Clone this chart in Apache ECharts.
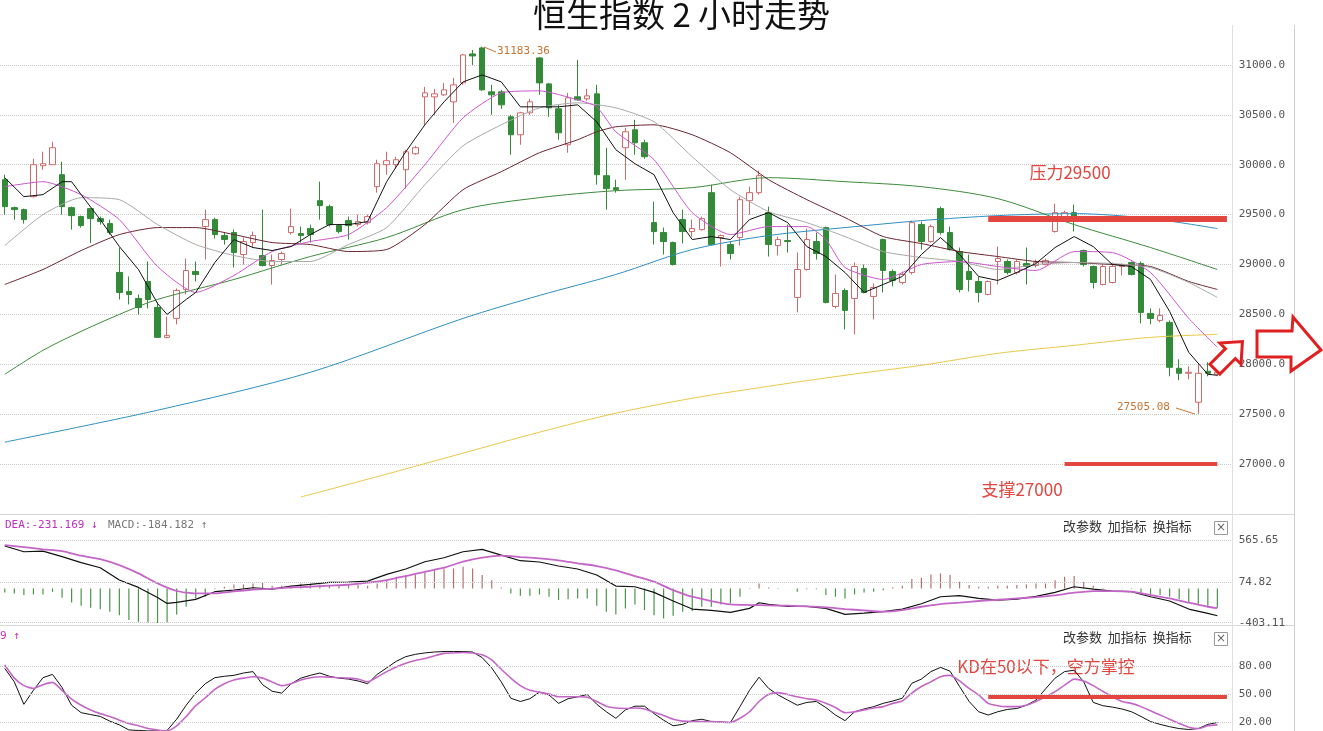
<!DOCTYPE html>
<html><head><meta charset="utf-8">
<script src="https://cdn.jsdelivr.net/npm/echarts@6/dist/echarts.min.js"></script>
<style>html,body{margin:0;padding:0;background:#fff}#c{width:1323px;height:731px}</style>
</head><body><div id="c"></div>
<script>
// [open, close, low, high]
const candles=[
[29850,29580,29500,29900],[29570,29550,29450,29580],[29550,29450,29410,29560],[29680,30000,29670,30060],[29990,30010,29950,30130],
[30000,30170,30000,30230],[29900,29580,29500,30030],[29570,29490,29350,29580],[29480,29390,29370,29490],[29560,29460,29215,29560],
[29460,29430,29400,29480],[29410,29320,29300,29450],[28920,28720,28650,29170],[28730,28700,28600,28880],[28660,28570,28500,28700],
[28830,28650,28560,29030],[28570,28270,28270,28620],[28270,28290,28260,28480],[28460,28740,28400,28760],[28750,28940,28700,29060],
[28930,28900,28830,29030],[29380,29450,29050,29550],[29450,29300,29260,29470],[29290,29250,29200,29320],[29320,29120,28970,29350],
[29100,29230,29000,29270],[29220,29290,29170,29330],[29090,28990,28980,29550],[28990,29040,28800,29100],[29050,29110,29000,29130],
[29320,29380,29300,29560],[29310,29290,29220,29380],[29360,29300,29220,29400],[29640,29590,29450,29830],[29580,29400,29380,29600],
[29390,29330,29310,29400],[29440,29390,29250,29480],[29400,29430,29380,29500],[29420,29480,29400,29500],[29780,30010,29720,30050],
[30000,30040,29900,30130],[30000,30050,29960,30080],[29950,30130,29760,30150],[30110,30170,30100,30190],[30680,30720,30400,30780],
[30680,30710,30500,30760],[30700,30750,30690,30820],[30630,30800,30420,30870],[30820,31100,30800,31110],[31110,31090,31000,31150],
[31170,30750,30740,31183.36],[30730,30700,30500,30800],[30730,30600,30560,30750],[30480,30300,30100,30500],[30300,30520,30200,30530],
[30520,30630,30500,30660],[31070,30820,30700,31080],[30810,30570,30480,30820],[30560,30320,30250,30600],[30200,30670,30120,30720],
[30680,30650,30640,31050],[30660,30690,30640,30760],[30710,29900,29800,30800],[29890,29760,29550,30170],[29770,29750,29720,29850],
[30170,30330,29850,30370],[30350,30220,30100,30450],[30220,30080,30060,30250],[29420,29330,29200,29630],[29320,29230,29100,29370],
[29220,29000,28990,29230],[29450,29330,29210,29550],[29330,29360,29280,29450],[29350,29460,29340,29480],[29720,29200,29190,29800],
[29270,29290,28980,29300],[29200,29110,29050,29230],[29270,29650,29190,29680],[29640,29720,29500,29780],[29720,29890,29700,29940],
[29520,29200,29080,29580],[29190,29250,29090,29280],[29240,29230,29120,29400],[28670,28950,28520,29120],[28950,29250,28940,29360],
[29230,29110,29050,29320],[29370,28620,28610,29380],[28580,28710,28560,28900],[28740,28540,28350,28760],[28660,28980,28300,29020],
[28960,28720,28710,29000],[28680,28770,28450,28810],[29250,28940,28720,29260],[28930,28840,28780,28950],[28820,28900,28800,28930],
[28920,29420,28900,29440],[29400,29230,29150,29430],[29230,29380,29220,29400],[29560,29320,29300,29580],[29320,29150,29140,29380],
[29130,28750,28720,29170],[28930,28850,28730,29100],[28830,28720,28620,28880],[28700,28830,28690,28840],[29030,29060,28800,29180],
[29030,28920,28900,29050],[28920,29030,28900,29050],[29010,28980,28800,29170],[28990,29020,28970,29050],[29000,29040,28990,29060],
[29330,29520,29320,29610],[29460,29520,29450,29540],[29520,29460,29330,29600],[29140,29000,28980,29150],[28980,28820,28760,28990],
[28800,28980,28790,29000],[28820,28980,28810,29020],[28980,29000,28890,29010],[29020,28900,28890,29030],[29010,28520,28410,29030],
[28510,28460,28400,28560],[28440,28490,28420,28560],[28420,27970,27880,28440],[27960,27910,27840,28050],[27910,27920,27850,27980],
[27620,27910,27505.08,28000],[27930,27910,27880,28020],[27900,27920,27880,27960]
];
// moving averages as [candleIndex, value]
const ma5=[[0,29870],[2,29680],[4,29700],[6,29830],[7,29830],[8,29700],[10,29450],[12,29180],[14,28950],[16,28610],[17,28500],[19,28650],[20,28720],[22,29020],[24,29250],[26,29170],[28,29140],[30,29180],[32,29300],[34,29400],[36,29400],[38,29430],[40,29830],[42,30130],[44,30400],[46,30630],[48,30830],[50,30900],[52,30830],[54,30580],[56,30580],[58,30580],[60,30600],[62,30430],[64,30150],[66,30010],[68,29900],[70,29520],[72,29250],[74,29280],[76,29250],[78,29450],[80,29520],[82,29420],[84,29180],[86,29080],[88,28920],[90,28720],[92,28800],[94,28880],[96,29100],[98,29270],[100,29100],[102,28880],[104,28840],[106,28920],[108,29010],[110,29170],[112,29280],[114,29180],[116,29000],[118,28980],[120,28850],[122,28530],[124,28120],[126,27900],[127,27890]];
const ma10=[[0,29780],[4,29830],[8,29700],[12,29450],[16,28980],[20,28720],[24,28890],[28,29130],[32,29230],[36,29300],[40,29570],[44,30000],[48,30470],[52,30720],[56,30740],[60,30650],[62,30580],[64,30330],[68,30050],[72,29520],[76,29300],[80,29380],[84,29380],[86,29250],[88,28970],[92,28850],[96,29000],[100,29030],[104,28980],[108,28940],[112,29130],[116,29120],[120,28920],[124,28460],[127,28170]];
const ma20=[[0,29190],[4,29500],[8,29670],[12,29650],[16,29400],[20,29200],[24,29090],[28,29030],[32,29030],[36,29200],[40,29370],[44,29800],[48,30190],[52,30400],[56,30570],[60,30620],[64,30570],[68,30430],[72,30080],[76,29750],[80,29530],[84,29420],[88,29280],[92,29130],[96,29070],[100,29030],[104,28950],[108,29000],[112,29020],[116,29010],[120,28970],[124,28820],[127,28670]];
const ma30=[[0,28800],[4,28950],[8,29140],[12,29300],[16,29370],[20,29370],[24,29300],[28,29220],[32,29200],[36,29130],[40,29150],[44,29400],[48,29750],[52,29930],[56,30120],[60,30250],[62,30330],[64,30380],[68,30400],[72,30300],[76,30120],[80,29850],[84,29650],[88,29470],[92,29280],[96,29210],[100,29130],[104,29080],[108,29030],[112,29020],[116,29000],[120,28980],[124,28830],[127,28750]];
const ma60=[[0,27900],[4,28140],[8,28330],[12,28500],[16,28650],[24,28850],[32,29080],[40,29270],[48,29550],[56,29670],[64,29740],[72,29770],[80,29870],[88,29830],[96,29780],[104,29660],[112,29400],[120,29170],[127,28950]];
const ma120=[[0,27220],[16,27540],[32,27920],[48,28460],[56,28690],[64,28900],[72,29150],[80,29290],[88,29370],[96,29440],[104,29490],[112,29510],[120,29460],[127,29360]];
const ma250=[[31,26670],[40,26900],[48,27110],[56,27320],[64,27510],[72,27660],[80,27780],[88,27890],[96,27990],[104,28110],[112,28190],[120,28270],[127,28300]];
const macdHist=[-47,-59,-78,-70,-70,-40,-110,-164,-203,-226,-242,-273,-312,-370,-390,-398,-410,-398,-305,-215,-117,-98,-10,20,47,47,58,70,31,31,31,58,58,47,39,31,39,47,31,58,98,137,156,164,187,215,
234,234,253,234,156,97,10,-58,-86,-86,-70,-97,-136,-125,-117,-117,-203,-273,-304,-234,-187,-253,-312,-351,-320,-273,-265,-214,-214,-187,-175,-97,-5,58,10,-8,0,-39,-10,-10,-78,-97,-117,-70,-47,-39,
-20,15,31,109,125,164,175,156,78,39,20,20,31,31,39,47,58,58,97,137,144,78,31,5,0,-5,-5,-47,-70,-78,-97,-125,-164,-195,-214,-226];
const dif=[[0,496],[2,429],[4,437],[6,371],[8,301],[10,242],[12,98],[14,12],[16,-105],[17,-175],[18,-163],[20,-128],[22,-38],[24,-19],[26,8],[28,-7],[30,28],[32,47],[34,71],[36,75],[38,86],[40,164],[42,227],[44,312],[46,359],[48,429],[50,457],[52,390],[54,324],[56,309],[58,262],[60,227],[62,157],[64,28],[66,20],[68,-46],[70,-147],[72,-241],[74,-257],[76,-280],[78,-233],[79,-167],[80,-186],[82,-210],[84,-210],[86,-233],[88,-303],[90,-288],[92,-272],[94,-241],[96,-179],[98,-97],[100,-85],[102,-116],[104,-136],[106,-124],[108,-93],[110,-46],[112,20],[114,-7],[116,-31],[118,-38],[120,-97],[122,-147],[124,-241],[126,-292],[127,-319]];
const dea=[[0,507],[2,484],[4,457],[6,437],[8,383],[10,344],[12,273],[14,176],[16,59],[18,-30],[20,-58],[22,-58],[24,-34],[26,-15],[28,-3],[30,12],[32,20],[34,32],[36,43],[38,67],[40,98],[42,145],[44,195],[46,242],[48,312],[50,359],[52,383],[54,367],[56,351],[58,328],[60,293],[62,262],[64,211],[66,145],[68,79],[70,-19],[72,-97],[74,-147],[76,-186],[78,-194],[80,-198],[82,-202],[84,-210],[86,-221],[88,-241],[90,-257],[92,-272],[94,-253],[96,-214],[98,-183],[100,-167],[102,-147],[104,-132],[106,-116],[108,-101],[110,-81],[112,-50],[114,-31],[116,-31],[118,-38],[120,-77],[122,-116],[124,-167],[126,-214],[127,-231]];
const kLine=[77.5,63,39,54,67.5,71,57,38,30,28,26,21,17,11.5,11,10.5,10.5,11,23,38,51,61,67.5,69,70,72.5,74,60,53,51,61,67,70,72.5,69,67,66,64,61,71,78,85,90,92.5,94,95,
95.5,95.5,95.5,95,89,78,63,45.5,42,45,52,49,40,45,47,49.5,39,31,24,33,37,37,29,22,16,17.5,21.5,23,20.5,20,19.5,36.5,54,68,56,49,43.5,38,41,42,35.5,27.5,21.5,31,34,36.5,
40,42.5,45.5,61.5,66,74,78.5,74.5,58,42,31,27.5,31,33.5,34.5,38,43.5,55.5,67,74,75.5,63,41,37.5,36,34,31,26,20.5,17.5,15,13,12,13,17.5,19.5];
const dLine=[81,67,59,56,60,62.5,54,44.5,38,33,29,26,22,18.5,16,13,11.5,10.5,16,26,37.5,46,55,61,65,67,68.5,67,63,59,61,65,67.5,68.5,68,67.5,67,66,63,68,74,79,83,86,88,91,
93.5,94,94.5,94,92,86.5,76.5,67,59,54,52,50,47,47,47,46.5,42,37,35,34.5,35,34,30.5,27,23,21,20.5,20.5,20.5,20,19.5,24,31,42,49.5,51.5,49.5,47,45,43.5,40,35.5,30,31,33,35,
36.5,40,42.5,51,58,63,68.5,70,64,56,49,40,37.5,36.5,36.5,38,42,47,52.5,59.5,66,64,59,53,47,42,40,36.5,32,27.5,23,18.5,14.5,13,16,17];
const priceTicks=[27000,27500,28000,28500,29000,29500,30000,30500,31000];
const macdTicks=[565.65,74.82,-403.11];
const kdTicks=[80,50,20];
const categories=candles.map((_,i)=>'K'+i).concat(['']);

const chart=echarts.init(document.getElementById('c'));
const mono='DejaVu Sans Mono';
const red='#e2463f';
const gridLeft=-2.8, gridW=1234.5;
function xa(g){return {type:'category',gridIndex:g,data:categories,boundaryGap:true,axisLine:{show:false},axisTick:{show:false},axisLabel:{show:false},splitLine:{show:false}};}
const lbl={color:'#555',fontFamily:mono,fontSize:11,margin:7};
const dotted={type:'dotted',color:'#c8c8c8',width:1};
function gl(vals){return {silent:true,symbol:'none',label:{show:false},lineStyle:dotted,data:vals.map(v=>({yAxis:v}))};}
function ln(name,data,color,w,xi,yi,extra){return Object.assign({name,type:'line',data,xAxisIndex:xi||0,yAxisIndex:yi||0,symbol:'none',lineStyle:{color,width:w||1},itemStyle:{color},z:3,animation:false},extra||{});}
const option={
  animation:false,
  grid:[
    {left:gridLeft,width:gridW,top:25,height:489},
    {left:gridLeft,width:gridW,top:517,height:106},
    {left:gridLeft,width:gridW,top:628,height:103}
  ],
  xAxis:[xa(0),xa(1),xa(2)],
  yAxis:[
    {type:'value',gridIndex:0,position:'right',min:26500,max:31400,interval:500,axisLine:{show:false},axisTick:{show:false},
     axisLabel:Object.assign({},lbl,{showMinLabel:false,formatter:v=>priceTicks.includes(v)?v.toFixed(1):''}),
     splitLine:{show:true,showMinLine:false,showMaxLine:false,lineStyle:dotted}},
    {type:'value',gridIndex:1,position:'right',min:-404,max:835,axisLine:{show:false},axisTick:{show:false},splitLine:{show:false},
     axisLabel:Object.assign({},lbl,{customValues:macdTicks,formatter:v=>v.toFixed(2)})},
    {type:'value',gridIndex:2,position:'right',min:10.4,max:120.7,axisLine:{show:false},axisTick:{show:false},splitLine:{show:false},
     axisLabel:Object.assign({},lbl,{customValues:kdTicks,formatter:v=>v.toFixed(2)})}
  ],
  series:[
    ln('MA250',ma250,'#e8c84a',1,0,0,{smooth:0.3}),
    ln('MA120',ma120,'#2e8fc0',1,0,0,{smooth:0.3}),
    ln('MA60',ma60,'#3d8a3d',1,0,0,{smooth:0.3}),
    ln('MA30',ma30,'#6a2430',1,0,0,{smooth:0.2}),
    ln('MA20',ma20,'#a8a8a8',1,0,0,{smooth:0.2}),
    ln('MA10',ma10,'#cc55cc',1,0,0,{smooth:0.2}),
    ln('MA5',ma5,'#111',1,0,0),
    {name:'K',type:'candlestick',data:candles,xAxisIndex:0,yAxisIndex:0,barWidth:6,z:2,
     itemStyle:{color:'#ffffff',color0:'#338a38',borderColor:'#cf6a6a',borderColor0:'#338a38',borderWidth:1},
     markLine:{silent:true,symbol:'none',label:{show:false},
       data:[
         [{coord:[103,29460],lineStyle:{color:red,width:6,type:'solid'}},{coord:[128,29460]}],
         [{coord:[111,27000],lineStyle:{color:red,width:4,type:'solid'}},{coord:[127,27000]}]
       ]}},
    {name:'MACD',type:'bar',data:macdHist,xAxisIndex:1,yAxisIndex:1,barWidth:1.2,
     itemStyle:{color:p=>p.value>=0?'#b47070':'#4a944a'}},
    ln('DIF',dif,'#111',1.2,1,1,{markLine:gl([565.65,74.82,-390])}),
    ln('DEA',dea,'#c466c8',1.8,1,1,{smooth:0.2}),
    ln('Kv',kLine,'#111',1,2,2,{markLine:gl([80,50,20])}),
    ln('Dv',dLine,'#c466c8',1.6,2,2,{smooth:0.2,
      markLine:{silent:true,symbol:'none',label:{show:false},
        data:[[{coord:[103,46.8],lineStyle:{color:red,width:4,type:'solid'}},{coord:[128,46.8]}]]}})
  ],
  graphic:[
    {type:'text',left:533,top:-2,style:{text:'恒生指数 2 小时走势',font:'normal 33px "Noto Sans CJK SC"',fill:'#111'}},
    {type:'line',shape:{x1:0,y1:514.5,x2:1294,y2:514.5},style:{stroke:'#d8d8d8',lineWidth:1}},
    {type:'line',shape:{x1:0,y1:625.5,x2:1294,y2:625.5},style:{stroke:'#d8d8d8',lineWidth:1}},
    {type:'line',shape:{x1:1232.5,y1:25,x2:1232.5,y2:731},style:{stroke:'#e0e0e0',lineWidth:1}},
    {type:'line',shape:{x1:1294.5,y1:25,x2:1294.5,y2:731},style:{stroke:'#cfcfcf',lineWidth:1}},
    {type:'text',left:5,top:520,style:{text:'DEA:-231.169 ↓',font:'11px "DejaVu Sans Mono"',fill:'#c030c0'}},
    {type:'text',left:108,top:520,style:{text:'MACD:-184.182 ↑',font:'11px "DejaVu Sans Mono"',fill:'#777'}},
    {type:'text',left:0,top:631,style:{text:'9 ↑',font:'11px "DejaVu Sans Mono"',fill:'#c030c0'}},
    {type:'text',left:1063,top:520,style:{text:'改参数  加指标  换指标',font:'13px "Noto Sans CJK SC"',fill:'#333'}},
    {type:'text',left:1063,top:631,style:{text:'改参数  加指标  换指标',font:'13px "Noto Sans CJK SC"',fill:'#333'}},
    {type:'rect',shape:{x:1214.5,y:521.5,width:13,height:13},style:{fill:'#fff',stroke:'#999'}},
    {type:'text',x:1221,y:528,style:{text:'×',font:'12px "DejaVu Sans"',fill:'#666',textAlign:'center',textVerticalAlign:'middle'}},
    {type:'rect',shape:{x:1214.5,y:632.5,width:13,height:13},style:{fill:'#fff',stroke:'#999'}},
    {type:'text',x:1221,y:639,style:{text:'×',font:'12px "DejaVu Sans"',fill:'#666',textAlign:'center',textVerticalAlign:'middle'}},
    {type:'text',left:497,top:46,style:{text:'31183.36',font:'11px "DejaVu Sans Mono"',fill:'#c87533'}},
    {type:'line',shape:{x1:484,y1:47,x2:496,y2:52},style:{stroke:'#c87533',lineWidth:1}},
    {type:'text',left:1117,top:402,style:{text:'27505.08',font:'11px "DejaVu Sans Mono"',fill:'#c87533'}},
    {type:'line',shape:{x1:1176,y1:408,x2:1195,y2:414},style:{stroke:'#c87533',lineWidth:1}},
    {type:'text',x:1070,y:173,style:{text:'压力29500',font:'17px "Noto Sans CJK SC"',fill:red,textAlign:'center',textVerticalAlign:'middle'}},
    {type:'text',x:1022,y:490,style:{text:'支撑27000',font:'17px "Noto Sans CJK SC"',fill:red,textAlign:'center',textVerticalAlign:'middle'}},
    {type:'text',x:1046,y:667,style:{text:'KD在50以下，空方掌控',font:'17px "Noto Sans CJK SC"',fill:red,textAlign:'center',textVerticalAlign:'middle'}},
    {type:'polygon',x:1229,y:355,rotation:Math.PI/4,shape:{points:[[-20,-7],[2,-7],[2,-15],[19,0],[2,15],[2,7],[-20,7]]},style:{fill:'#fff',stroke:'#e02020',lineWidth:3},z:100},
    {type:'polygon',shape:{points:[[1257,331],[1292,331],[1293,317],[1321,350],[1291,371],[1291,357],[1257,357]]},style:{fill:'#fff',stroke:'#e02020',lineWidth:3},z:100}
  ]
};
chart.setOption(option);
</script></body></html>
